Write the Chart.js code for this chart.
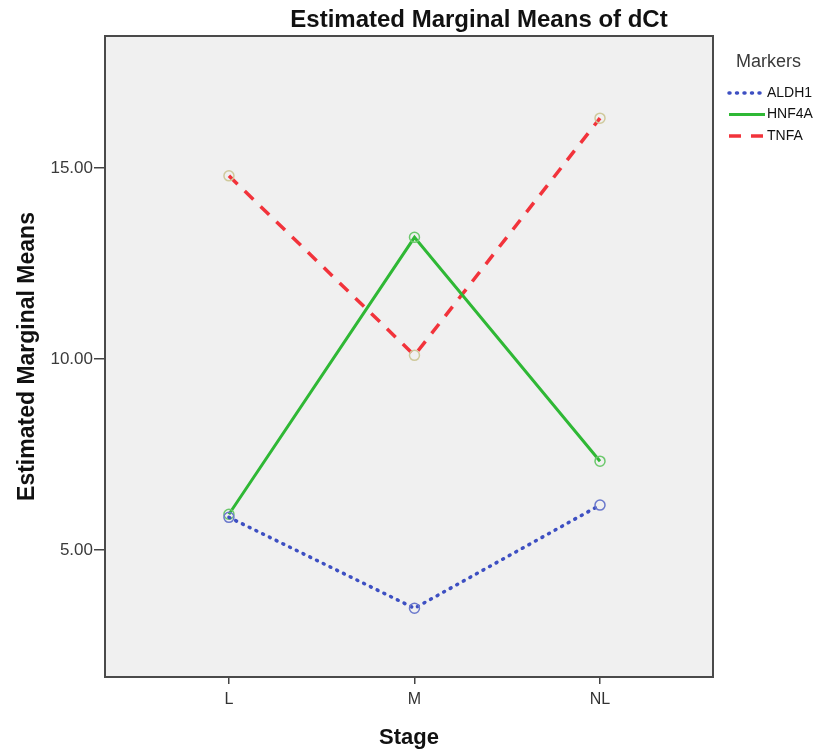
<!DOCTYPE html>
<html lang="en">
<head>
    <meta charset="UTF-8">
    <title>Estimated Marginal Means of dCt</title>
    <script src="https://cdn.jsdelivr.net/npm/chart.js"></script>
    <style>
        html, body { margin: 0; padding: 0; background: #fff; }
        #wrap { width: 818px; height: 753px; }
    </style>
</head>
<body>
    <div id="wrap"><canvas id="emmChart"></canvas></div>

    <script>
        // Data
        const stages = ["L", "M", "NL"];
        const aldh1 = [5.86, 3.48, 6.18];
        const hnf4a = [5.94, 13.19, 7.33];
        const tnfa = [14.8, 10.1, 16.31];
        const yTicks = [5, 10, 15];

        const toPoints = vals => vals.map((v, i) => ({ x: i, y: v }));

        const FONT = "Arial, 'Liberation Sans', sans-serif";

        // plot background, frame, title and legend (SPSS style)
        const spssLook = {
            id: 'spssLook',
            beforeDraw(chart) {
                const { ctx, chartArea: a } = chart;
                ctx.save();
                ctx.fillStyle = '#f0f0f0';
                ctx.fillRect(a.left, a.top, a.right - a.left, a.bottom - a.top);
                ctx.restore();
            },
            afterDraw(chart) {
                const { ctx, chartArea: a } = chart;
                ctx.save();
                ctx.strokeStyle = '#4a4a4a';
                ctx.lineWidth = 2;
                ctx.strokeRect(a.left, a.top, a.right - a.left, a.bottom - a.top);

                ctx.fillStyle = '#111';
                ctx.font = 'bold 24px ' + FONT;
                ctx.textAlign = 'center';
                ctx.textBaseline = 'middle';
                ctx.fillText('Estimated Marginal Means of dCt', 479, 20);

                ctx.fillStyle = '#3a3a3a';
                ctx.font = '18px ' + FONT;
                ctx.textAlign = 'left';
                ctx.fillText('Markers', 736, 62);

                ctx.font = '14px ' + FONT;
                ctx.fillStyle = '#111';
                chart.data.datasets.forEach((ds, i) => {
                    const y = 93 + i * 21.5;
                    ctx.strokeStyle = ds.borderColor;
                    ctx.lineWidth = ds.borderWidth;
                    ctx.lineCap = ds.borderCapStyle || 'butt';
                    ctx.setLineDash(ds.borderDash || []);
                    ctx.beginPath();
                    ctx.moveTo(729, y);
                    ctx.lineTo(765, y);
                    ctx.stroke();
                    ctx.setLineDash([]);
                    ctx.fillText(ds.label, 767, y);
                });
                ctx.restore();
            }
        };

        const ctx = document.getElementById('emmChart').getContext('2d');

        new Chart(ctx, {
            type: 'line',
            data: {
                datasets: [
                    {
                        label: 'ALDH1',
                        data: toPoints(aldh1),
                        borderColor: '#3d4fc2',
                        borderWidth: 3.5,
                        borderDash: [1, 6.5],
                        borderCapStyle: 'round',
                        pointRadius: 5,
                        pointBorderWidth: 1.5,
                        pointBorderColor: '#6a78cc',
                        pointBackgroundColor: 'rgba(0,0,0,0)'
                    },
                    {
                        label: 'HNF4A',
                        data: toPoints(hnf4a),
                        borderColor: '#2fb835',
                        borderWidth: 3,
                        pointRadius: 5,
                        pointBorderWidth: 1.5,
                        pointBorderColor: '#6cc86c',
                        pointBackgroundColor: 'rgba(0,0,0,0)'
                    },
                    {
                        label: 'TNFA',
                        data: toPoints(tnfa),
                        borderColor: '#f2333b',
                        borderWidth: 3.5,
                        borderDash: [12, 10],
                        pointRadius: 5,
                        pointBorderWidth: 1.5,
                        pointBorderColor: '#cfc99b',
                        pointBackgroundColor: 'rgba(0,0,0,0)'
                    }
                ]
            },
            options: {
                responsive: true,
                maintainAspectRatio: false,
                animation: false,
                layout: { padding: { top: 36, right: 105, bottom: 0, left: 0 } },
                plugins: {
                    legend: { display: false },
                    tooltip: { enabled: false }
                },
                scales: {
                    x: {
                        type: 'linear',
                        min: -0.668,
                        max: 2.609,
                        afterBuildTicks: s => { s.ticks = stages.map((_, i) => ({ value: i })); },
                        afterFit: s => { s.height = 76; },
                        ticks: {
                            callback: v => stages[v],
                            color: '#333',
                            font: { family: FONT, size: 16 },
                            padding: 6,
                            maxRotation: 0
                        },
                        grid: { drawOnChartArea: false, drawTicks: true, tickLength: 7, color: '#444', lineWidth: 1.5 },
                        border: { display: false },
                        title: {
                            display: true,
                            text: 'Stage',
                            color: '#111',
                            font: { family: FONT, size: 22, weight: 'bold' },
                            padding: { top: 12, bottom: 2 }
                        }
                    },
                    y: {
                        min: 1.68,
                        max: 18.46,
                        afterBuildTicks: s => { s.ticks = yTicks.map(v => ({ value: v })); },
                        afterFit: s => { s.width = 105; },
                        ticks: {
                            callback: v => v.toFixed(2),
                            color: '#3a3a3a',
                            font: { family: FONT, size: 17 },
                            padding: 1
                        },
                        grid: { drawOnChartArea: false, drawTicks: true, tickLength: 11, color: '#444', lineWidth: 1.5 },
                        border: { display: false },
                        title: {
                            display: true,
                            text: 'Estimated Marginal Means',
                            color: '#111',
                            font: { family: FONT, size: 23, weight: 'bold' },
                            padding: { top: 14, bottom: 0 }
                        }
                    }
                }
            },
            plugins: [spssLook]
        });
    </script>
</body>
</html>
